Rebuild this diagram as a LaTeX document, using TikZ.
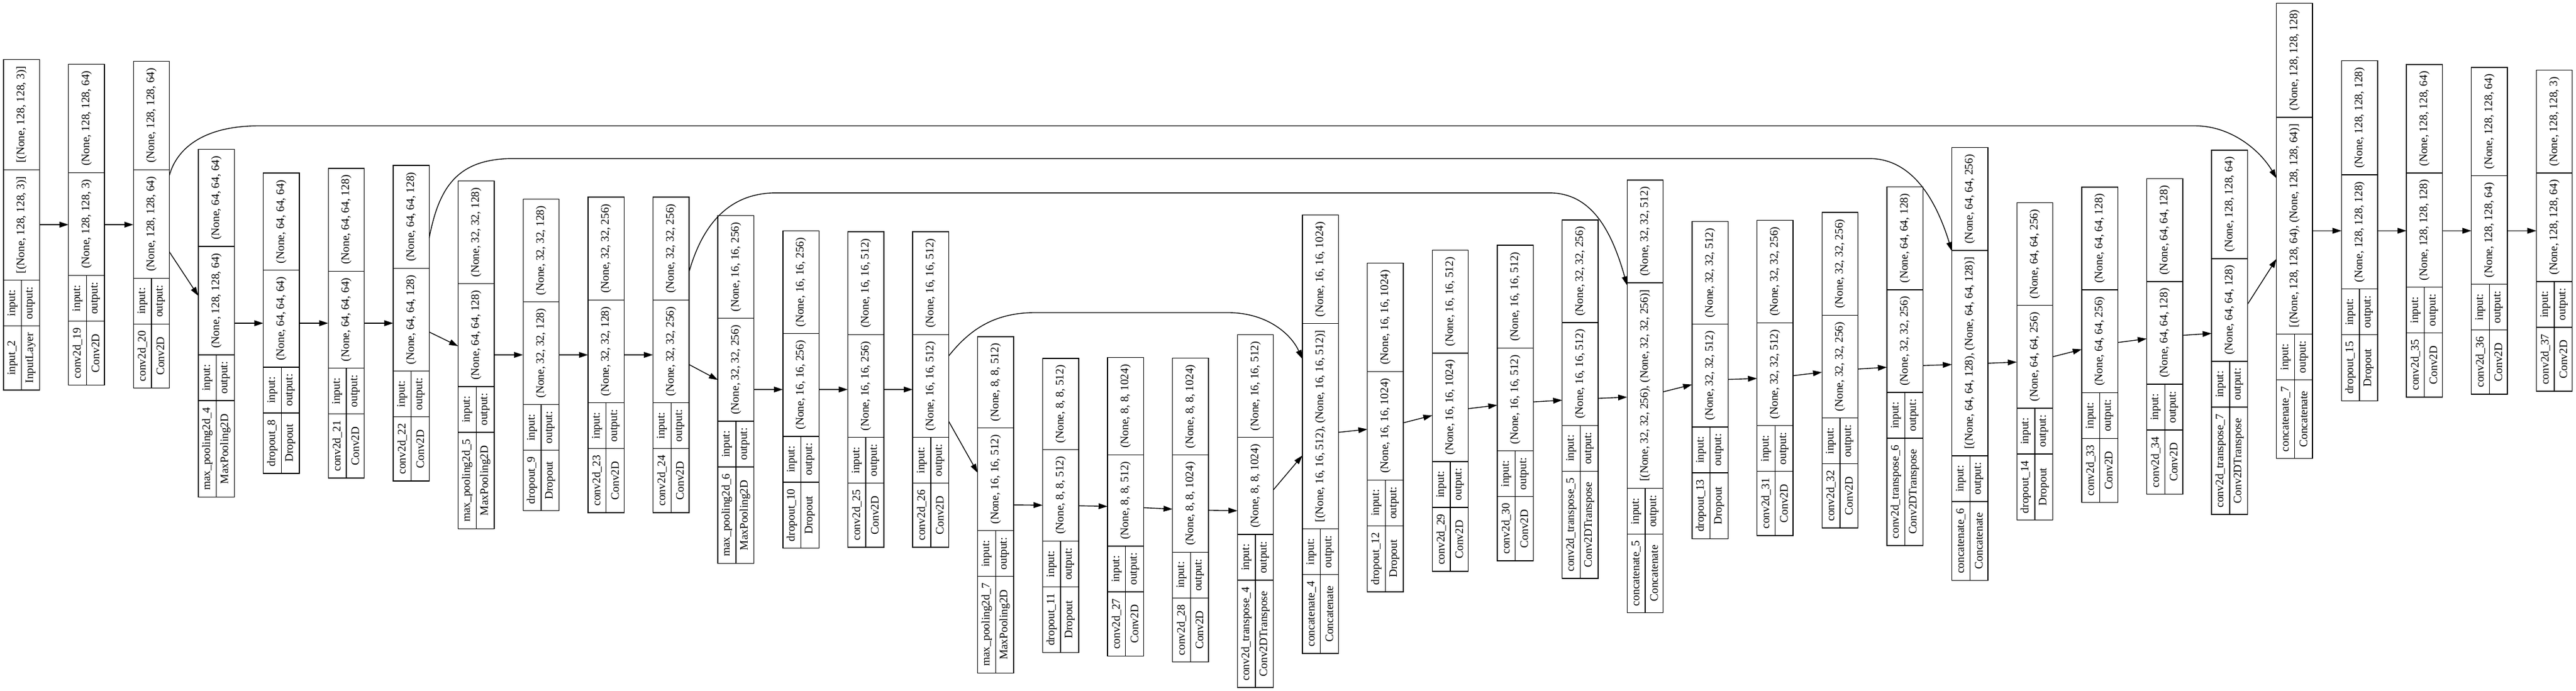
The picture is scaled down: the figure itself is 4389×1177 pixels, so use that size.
\documentclass[tikz,border=0pt]{standalone}
\usepackage{fontspec}
\setmainfont{Liberation Serif}
\usetikzlibrary{arrows.meta,calc}

\newcommand{\lfont}{\fontsize{14pt}{16.8pt}\selectfont}
\newlength{\cellA}\newlength{\cellB}\newlength{\cellC}\newlength{\cellD}
\newlength{\cellT}\newlength{\cellpad}\newlength{\halfrow}
\setlength{\cellpad}{16.5pt}
\setlength{\halfrow}{11.05pt}

% text width of a cell, measured outside the picture font settings
\newcommand{\measurecell}[2]{%
  \pgfinterruptpicture\settowidth{\cellT}{\lfont #2}\global#1=\cellT\endpgfinterruptpicture}

% #1 node, #2 rank, #3 y centre, #4 name, #5 class, #6 input shape, #7 output shape
\newcommand{\kerasnode}[7]{%
  \measurecell{\cellA}{#4}\measurecell{\cellB}{#5}%
  \ifdim\cellB>\cellA \global\cellA=\cellB\fi
  \global\advance\cellA by \cellpad
  \measurecell{\cellB}{output:}\global\advance\cellB by \cellpad
  \measurecell{\cellC}{#6}\global\advance\cellC by \cellpad
  \measurecell{\cellD}{#7}\global\advance\cellD by \cellpad
  \node[layer, minimum height=\cellA+\cellB+\cellC+\cellD] (#1) at ({36.7+110.65*#2},#3) {};
  \draw ([yshift=\cellA]#1.south west) -- ([yshift=\cellA]#1.south east)
        ([yshift=\cellA+\cellB]#1.south west) -- ([yshift=\cellA+\cellB]#1.south east)
        ([yshift=\cellA+\cellB+\cellC]#1.south west) -- ([yshift=\cellA+\cellB+\cellC]#1.south east)
        (#1.south) -- ([yshift=\cellA+\cellB]#1.south);
  \node[lbl] at ([xshift=-\halfrow, yshift=0.5*\cellA]#1.south) {#4};
  \node[lbl] at ([xshift=\halfrow, yshift=0.5*\cellA]#1.south) {#5};
  \node[lbl] at ([xshift=-\halfrow, yshift=\cellA+0.5*\cellB]#1.south) {input:};
  \node[lbl] at ([xshift=\halfrow, yshift=\cellA+0.5*\cellB]#1.south) {output:};
  \node[lbl] at ([yshift=\cellA+\cellB+0.5*\cellC]#1.south) {#6};
  \node[lbl] at ([yshift=\cellA+\cellB+\cellC+0.5*\cellD]#1.south) {#7};
}

\begin{document}
\begin{tikzpicture}[
    x=0.72pt, y=-0.72pt,
    line width=1pt,
    layer/.style={draw, rectangle, minimum width=44.2pt, inner sep=0pt, outer sep=0pt},
    lbl/.style={rotate=90, font=\lfont, inner sep=0pt},
    >={Triangle[length=11pt,width=7pt]}
]
\fill[white] (0,0) rectangle (4389,1177);
\useasboundingbox (0,0) rectangle (4389,1177);

\kerasnode{in2}{0}{383}{input\_2}{InputLayer}{[(None, 128, 128, 3)]}{[(None, 128, 128, 3)]}
\kerasnode{c19}{1}{383}{conv2d\_19}{Conv2D}{(None, 128, 128, 3)}{(None, 128, 128, 64)}
\kerasnode{c20}{2}{383}{conv2d\_20}{Conv2D}{(None, 128, 128, 64)}{(None, 128, 128, 64)}
\kerasnode{mp4}{3}{551}{max\_pooling2d\_4}{MaxPooling2D}{(None, 128, 128, 64)}{(None, 64, 64, 64)}
\kerasnode{d8}{4}{551}{dropout\_8}{Dropout}{(None, 64, 64, 64)}{(None, 64, 64, 64)}
\kerasnode{c21}{5}{551}{conv2d\_21}{Conv2D}{(None, 64, 64, 64)}{(None, 64, 64, 128)}
\kerasnode{c22}{6}{551}{conv2d\_22}{Conv2D}{(None, 64, 64, 128)}{(None, 64, 64, 128)}
\kerasnode{mp5}{7}{605}{max\_pooling2d\_5}{MaxPooling2D}{(None, 64, 64, 128)}{(None, 32, 32, 128)}
\kerasnode{d9}{8}{605}{dropout\_9}{Dropout}{(None, 32, 32, 128)}{(None, 32, 32, 128)}
\kerasnode{c23}{9}{605}{conv2d\_23}{Conv2D}{(None, 32, 32, 128)}{(None, 32, 32, 256)}
\kerasnode{c24}{10}{605}{conv2d\_24}{Conv2D}{(None, 32, 32, 256)}{(None, 32, 32, 256)}
\kerasnode{mp6}{11}{664}{max\_pooling2d\_6}{MaxPooling2D}{(None, 32, 32, 256)}{(None, 16, 16, 256)}
\kerasnode{d10}{12}{664}{dropout\_10}{Dropout}{(None, 16, 16, 256)}{(None, 16, 16, 256)}
\kerasnode{c25}{13}{664}{conv2d\_25}{Conv2D}{(None, 16, 16, 256)}{(None, 16, 16, 512)}
\kerasnode{c26}{14}{664}{conv2d\_26}{Conv2D}{(None, 16, 16, 512)}{(None, 16, 16, 512)}
\kerasnode{mp7}{15}{860.5}{max\_pooling2d\_7}{MaxPooling2D}{(None, 16, 16, 512)}{(None, 8, 8, 512)}
\kerasnode{d11}{16}{861.5}{dropout\_11}{Dropout}{(None, 8, 8, 512)}{(None, 8, 8, 512)}
\kerasnode{c27}{17}{864}{conv2d\_27}{Conv2D}{(None, 8, 8, 512)}{(None, 8, 8, 1024)}
\kerasnode{c28}{18}{869.4}{conv2d\_28}{Conv2D}{(None, 8, 8, 1024)}{(None, 8, 8, 1024)}
\kerasnode{ct4}{19}{871.2}{conv2d\_transpose\_4}{Conv2DTranspose}{(None, 8, 8, 1024)}{(None, 16, 16, 512)}
\kerasnode{cat4}{20}{740.2}{concatenate\_4}{Concatenate}{[(None, 16, 16, 512), (None, 16, 16, 512)]}{(None, 16, 16, 1024)}
\kerasnode{d12}{21}{728.6}{dropout\_12}{Dropout}{(None, 16, 16, 1024)}{(None, 16, 16, 1024)}
\kerasnode{c29}{22}{700.4}{conv2d\_29}{Conv2D}{(None, 16, 16, 1024)}{(None, 16, 16, 512)}
\kerasnode{c30}{23}{687}{conv2d\_30}{Conv2D}{(None, 16, 16, 512)}{(None, 16, 16, 512)}
\kerasnode{ct5}{24}{680.4}{conv2d\_transpose\_5}{Conv2DTranspose}{(None, 16, 16, 512)}{(None, 32, 32, 256)}
\kerasnode{cat5}{25}{675.7}{concatenate\_5}{Concatenate}{[(None, 32, 32, 256), (None, 32, 32, 256)]}{(None, 32, 32, 512)}
\kerasnode{d13}{26}{647.9}{dropout\_13}{Dropout}{(None, 32, 32, 512)}{(None, 32, 32, 512)}
\kerasnode{c31}{27}{644.1}{conv2d\_31}{Conv2D}{(None, 32, 32, 512)}{(None, 32, 32, 256)}
\kerasnode{c32}{28}{631}{conv2d\_32}{Conv2D}{(None, 32, 32, 256)}{(None, 32, 32, 256)}
\kerasnode{ct6}{29}{624.2}{conv2d\_transpose\_6}{Conv2DTranspose}{(None, 32, 32, 256)}{(None, 64, 64, 128)}
\kerasnode{cat6}{30}{620.5}{concatenate\_6}{Concatenate}{[(None, 64, 64, 128), (None, 64, 64, 128)]}{(None, 64, 64, 256)}
\kerasnode{d14}{31}{616}{dropout\_14}{Dropout}{(None, 64, 64, 256)}{(None, 64, 64, 256)}
\kerasnode{c33}{32}{587.8}{conv2d\_33}{Conv2D}{(None, 64, 64, 256)}{(None, 64, 64, 128)}
\kerasnode{c34}{33}{573.6}{conv2d\_34}{Conv2D}{(None, 64, 64, 128)}{(None, 64, 64, 128)}
\kerasnode{ct7}{34}{566.4}{conv2d\_transpose\_7}{Conv2DTranspose}{(None, 64, 64, 128)}{(None, 128, 128, 64)}
\kerasnode{cat7}{35}{393.4}{concatenate\_7}{Concatenate}{[(None, 128, 128, 64), (None, 128, 128, 64)]}{(None, 128, 128, 128)}
\kerasnode{d15}{36}{393.4}{dropout\_15}{Dropout}{(None, 128, 128, 128)}{(None, 128, 128, 128)}
\kerasnode{c35}{37}{393.4}{conv2d\_35}{Conv2D}{(None, 128, 128, 128)}{(None, 128, 128, 64)}
\kerasnode{c36}{38}{393.4}{conv2d\_36}{Conv2D}{(None, 128, 128, 64)}{(None, 128, 128, 64)}
\kerasnode{c37}{39}{393.4}{conv2d\_37}{Conv2D}{(None, 128, 128, 64)}{(None, 128, 128, 3)}

\draw[->] (in2) -- (c19);
\draw[->] (c19) -- (c20);
\draw[->] (c20) -- (mp4);
\draw[->] (mp4) -- (d8);
\draw[->] (d8) -- (c21);
\draw[->] (c21) -- (c22);
\draw[->] (c22) -- (mp5);
\draw[->] (mp5) -- (d9);
\draw[->] (d9) -- (c23);
\draw[->] (c23) -- (c24);
\draw[->] (c24) -- (mp6);
\draw[->] (mp6) -- (d10);
\draw[->] (d10) -- (c25);
\draw[->] (c25) -- (c26);
\draw[->] (c26) -- (mp7);
\draw[->] (mp7) -- (d11);
\draw[->] (d11) -- (c27);
\draw[->] (c27) -- (c28);
\draw[->] (c28) -- (ct4);
\draw[->] (ct4) -- (cat4);
\draw[->] (cat4) -- (d12);
\draw[->] (d12) -- (c29);
\draw[->] (c29) -- (c30);
\draw[->] (c30) -- (ct5);
\draw[->] (ct5) -- (cat5);
\draw[->] (cat5) -- (d13);
\draw[->] (d13) -- (c31);
\draw[->] (c31) -- (c32);
\draw[->] (c32) -- (ct6);
\draw[->] (ct6) -- (cat6);
\draw[->] (cat6) -- (d14);
\draw[->] (d14) -- (c33);
\draw[->] (c33) -- (c34);
\draw[->] (c34) -- (ct7);
\draw[->] (ct7) -- (cat7);
\draw[->] (cat7) -- (d15);
\draw[->] (d15) -- (c35);
\draw[->] (c35) -- (c36);
\draw[->] (c36) -- (c37);

% skip connections
\draw[->] ($(c20.east)+(0,-84.4)$) .. controls (300,258) and (340,215) .. (440,214.5)
    -- (3740,214.5) .. controls (3800,214.5) and (3850,255) .. ($(cat7.west)+(0,-89.4)$);
\draw[->] ($(c22.east)+(0,-145.3)$) .. controls (748,318) and (780,272) .. (870,270.3)
    -- (3185,270.3) .. controls (3260,270.3) and (3300,345) .. ($(cat6.west)+(0,-192.5)$);
\draw[->] ($(c24.east)+(0,-141.1)$) .. controls (1192,400) and (1230,330) .. (1320,328.8)
    -- (2640,328.8) .. controls (2710,329) and (2745,390) .. ($(cat5.west)+(0,-189.2)$);
\draw[->] ($(c26.east)+(0,-57.4)$) .. controls (1650,565) and (1690,534) .. (1760,533)
    -- (2095,533) .. controls (2160,534) and (2200,570) .. ($(cat4.west)+(0,-128.2)$);
\end{tikzpicture}
\end{document}
